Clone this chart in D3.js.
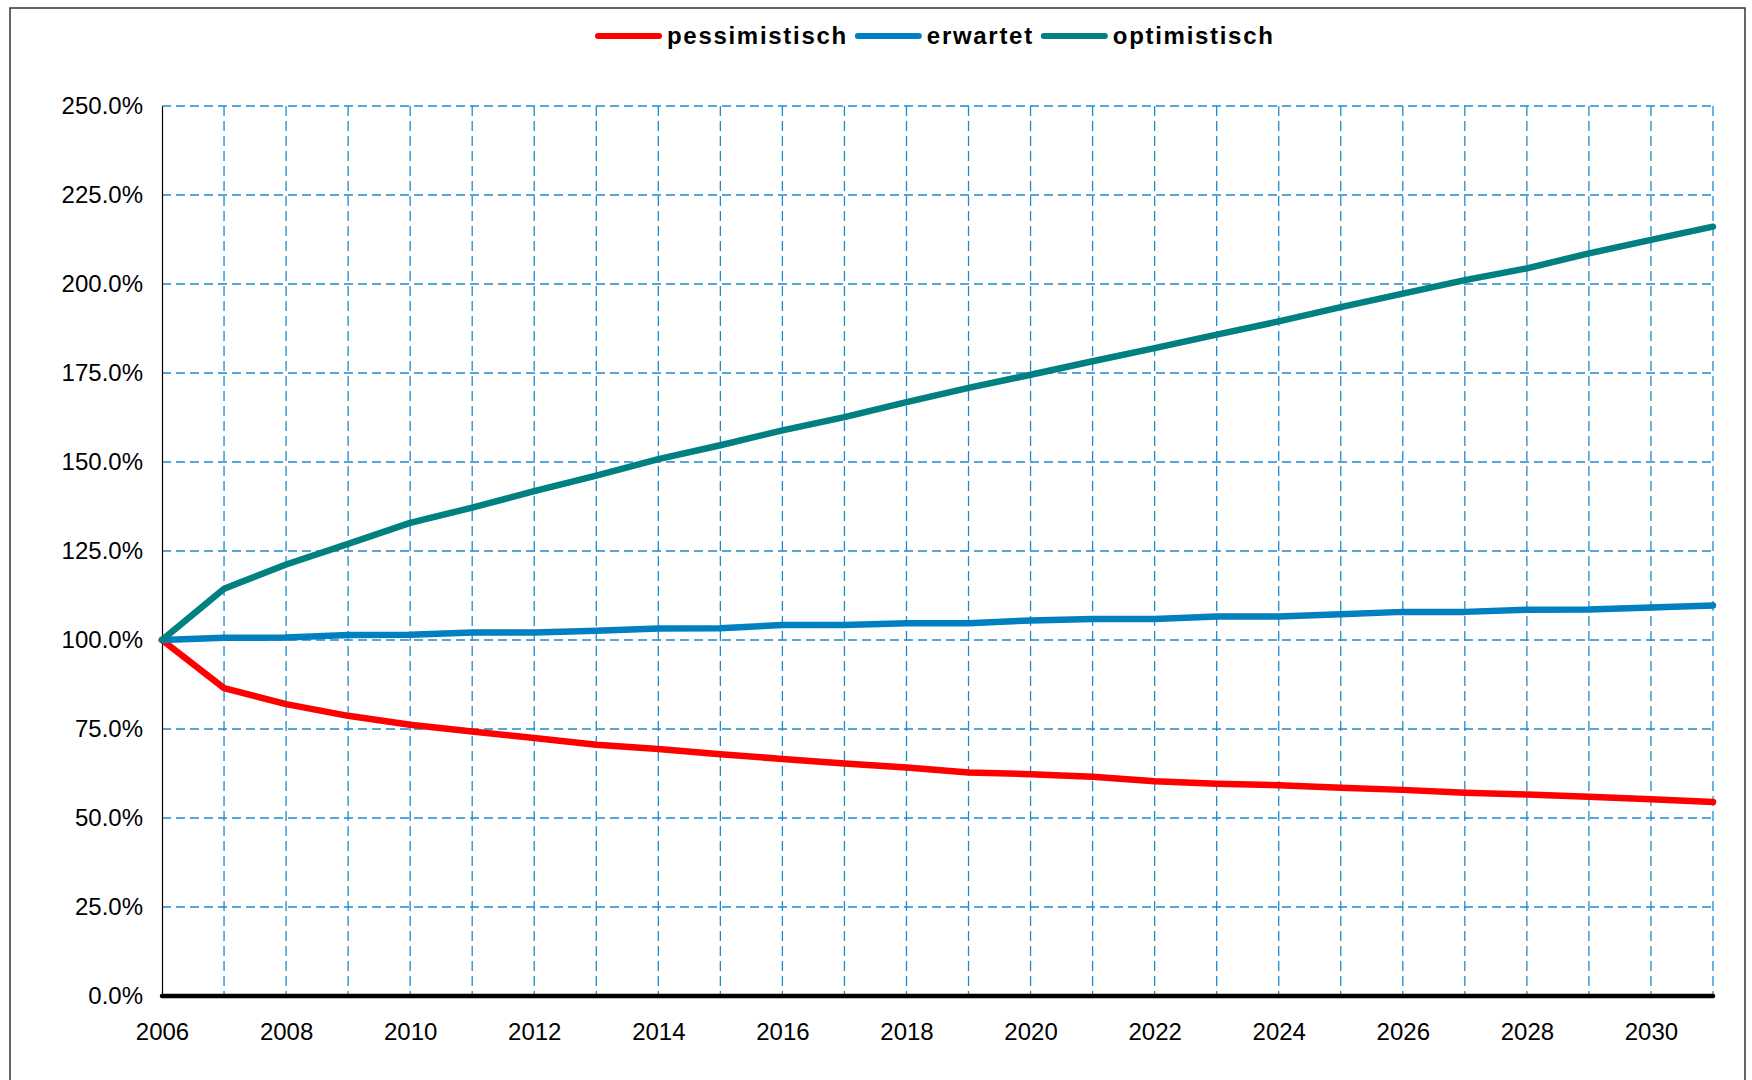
<!DOCTYPE html>
<html>
<head>
<meta charset="utf-8">
<script src="https://cdn.jsdelivr.net/npm/d3@7"></script>
<style>
  body { margin: 0; background: #fff; }
  text { font-family: Arial, "Liberation Sans", sans-serif; }
</style>
</head>
<body>
<div id="chart"></div>
<script>
// data
const years = d3.range(2006, 2032);
const yTicks = [0, 25, 50, 75, 100, 125, 150, 175, 200, 225, 250];
const xTicks = d3.range(2006, 2031, 2);
const seriesNames = ["pessimistisch", "erwartet", "optimistisch"];
const seriesColors = ["#ff0000", "#0080c0", "#008080"];
const pessimistisch = [100, 86.5, 82.0, 78.7, 76.2, 74.3, 72.5, 70.6, 69.4, 67.9, 66.6, 65.3, 64.2,
                       62.8, 62.3, 61.6, 60.3, 59.6, 59.2, 58.5, 57.9, 57.1, 56.6, 56.0, 55.3, 54.5];
const erwartet = [100, 100.6, 100.7, 101.4, 101.5, 102.1, 102.1, 102.6, 103.2, 103.3, 104.2, 104.2, 104.7,
                  104.7, 105.5, 105.9, 105.9, 106.6, 106.6, 107.2, 107.9, 107.9, 108.5, 108.6, 109.1, 109.7];
const optimistisch = [100, 114.4, 121.2, 127.0, 132.9, 137.2, 141.8, 146.2, 150.8, 154.7, 158.9, 162.6, 166.8,
                      170.8, 174.5, 178.3, 182.0, 185.8, 189.5, 193.5, 197.3, 201.1, 204.4, 208.6, 212.4, 216.1];
const series = [pessimistisch, erwartet, optimistisch];

// constants
const w = 1752,
      h = 1080,
      xLeft = 162,
      xRight = 1713,
      yTop = 106,
      yBottom = 996,
      gridColor = "#1f8bcc";

let svg = d3.select("#chart")
            .append("svg")
            .attr("width", w)
            .attr("height", h);

// outer frame
svg.append("rect")
   .attr("x", 10)
   .attr("y", 8)
   .attr("width", 1735)
   .attr("height", 1090)
   .attr("fill", "none")
   .attr("stroke", "#333")
   .attr("stroke-width", 1.5);

let xScale = d3.scaleLinear()
               .domain([2006, 2031])
               .range([xLeft, xRight]);
let yScale = d3.scaleLinear()
               .domain([0, 250])
               .range([yBottom, yTop]);

// horizontal grid
svg.append("g")
   .selectAll("line")
   .data(yTicks.filter((d) => d > 0))
   .enter()
   .append("line")
   .attr("x1", xLeft)
   .attr("x2", xRight)
   .attr("y1", (d) => yScale(d))
   .attr("y2", (d) => yScale(d))
   .attr("stroke", gridColor)
   .attr("stroke-width", 1.3)
   .attr("stroke-dasharray", "9,5");

// vertical grid
svg.append("g")
   .selectAll("line")
   .data(years.filter((d) => d > 2006))
   .enter()
   .append("line")
   .attr("x1", (d) => xScale(d))
   .attr("x2", (d) => xScale(d))
   .attr("y1", yTop)
   .attr("y2", yBottom)
   .attr("stroke", gridColor)
   .attr("stroke-width", 1.3)
   .attr("stroke-dasharray", "10,5");

// y axis
let yAxis = d3.axisLeft(yScale)
              .tickValues(yTicks)
              .tickSize(0)
              .tickPadding(19)
              .tickFormat((d) => d.toFixed(1) + "%");
let gy = svg.append("g")
            .attr("transform", `translate(${xLeft}, 0)`)
            .call(yAxis);
gy.select(".domain")
  .attr("stroke", "#000")
  .attr("stroke-width", 1.2);
gy.selectAll("text")
  .attr("font-size", 24)
  .attr("fill", "#000")
  .style("font-family", "Arial, 'Liberation Sans', sans-serif");

// x axis
let xAxis = d3.axisBottom(xScale)
              .tickValues(xTicks)
              .tickSize(0)
              .tickPadding(27)
              .tickFormat(d3.format("d"));
let gx = svg.append("g")
            .attr("transform", `translate(0, ${yBottom})`)
            .call(xAxis);
gx.select(".domain").remove();
gx.selectAll("text")
  .attr("font-size", 24)
  .attr("fill", "#000")
  .style("font-family", "Arial, 'Liberation Sans', sans-serif");

// thick base line
svg.append("line")
   .attr("x1", xScale(2006))
   .attr("x2", xScale(2031))
   .attr("y1", yScale(0))
   .attr("y2", yScale(0))
   .attr("stroke", "#000")
   .attr("stroke-width", 4.5)
   .attr("stroke-linecap", "round");

// lines
let line = d3.line()
             .x((d, i) => xScale(years[i]))
             .y((d) => yScale(d));

svg.append("g")
   .selectAll("path")
   .data(series)
   .enter()
   .append("path")
   .attr("d", line)
   .attr("fill", "none")
   .attr("stroke", (d, i) => seriesColors[i])
   .attr("stroke-width", 6.5)
   .attr("stroke-linejoin", "round")
   .attr("stroke-linecap", "round");

// legend
let lx = 598;
const ly = 36;
seriesNames.forEach((name, i) => {
  svg.append("line")
     .attr("x1", lx)
     .attr("x2", lx + 61)
     .attr("y1", ly)
     .attr("y2", ly)
     .attr("stroke", seriesColors[i])
     .attr("stroke-width", 6)
     .attr("stroke-linecap", "round");
  let t = svg.append("text")
             .attr("x", lx + 69)
             .attr("y", ly)
             .attr("dy", "0.35em")
             .attr("font-size", 24)
             .attr("font-weight", "bold")
             .attr("letter-spacing", 1.7)
             .attr("fill", "#000")
             .text(name);
  lx = lx + 69 + t.node().getComputedTextLength() + 10;
});
</script>
</body>
</html>
